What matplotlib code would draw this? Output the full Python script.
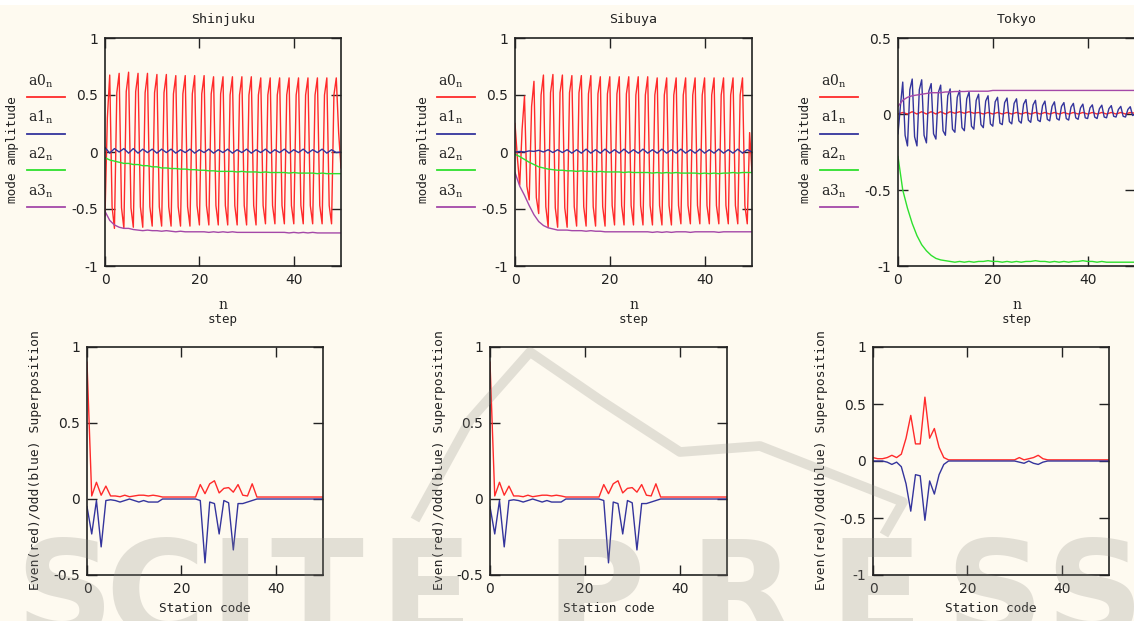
import numpy as np
import matplotlib.pyplot as plt
from matplotlib.lines import Line2D
from matplotlib.patches import Rectangle

W, H = 1134, 621
BG = "#FEFAF0"

STATIONS = ["Shinjuku", "Sibuya", "Tokyo"]
MODE_LABELS = ["a0", "a1", "a2", "a3"]
MODE_COLORS = ["#FF2A2A", "#34349C", "#2EE02E", "#A448A8"]

step = np.arange(51)
half_step = np.arange(101) / 2
station_code = np.arange(51)

# ---- mode amplitudes (top row) ----
shinjuku_a0 = [
    -0.56, 0.30, 0.675, -0.48,
    -0.67, 0.52, 0.69, -0.49,
    -0.67, 0.53, 0.70, -0.49,
    -0.66, 0.53, 0.69, -0.48,
    -0.66, 0.52, 0.69, -0.48,
    -0.65, 0.52, 0.68, -0.48,
    -0.65, 0.52, 0.68, -0.48,
    -0.65, 0.51, 0.67, -0.48,
    -0.65, 0.51, 0.67, -0.48,
    -0.65, 0.51, 0.67, -0.47,
    -0.64, 0.51, 0.67, -0.47,
    -0.64, 0.51, 0.66, -0.47,
    -0.64, 0.51, 0.66, -0.47,
    -0.64, 0.50, 0.66, -0.47,
    -0.64, 0.50, 0.66, -0.47,
    -0.64, 0.50, 0.66, -0.47,
    -0.64, 0.50, 0.65, -0.47,
    -0.63, 0.50, 0.65, -0.47,
    -0.63, 0.50, 0.65, -0.47,
    -0.63, 0.50, 0.65, -0.47,
    -0.63, 0.50, 0.65, -0.47,
    -0.63, 0.50, 0.65, -0.47,
    -0.63, 0.50, 0.65, -0.47,
    -0.63, 0.50, 0.65, -0.47,
    -0.63, 0.50, 0.65, 0.17,
    -0.14,
]
shinjuku_a1 = [
    0.04, -0.01, 0.03, 0.00, 0.03, -0.01, 0.03, -0.01, 0.025, -0.005,
    0.025, -0.01, 0.025, -0.005, 0.025, -0.01, 0.02, -0.005, 0.025, -0.01,
    0.02, -0.005, 0.025, -0.01, 0.02, -0.005, 0.025, -0.01, 0.02, -0.005,
    0.025, -0.01, 0.02, -0.005, 0.025, -0.01, 0.02, -0.005, 0.025, -0.01,
    0.02, -0.005, 0.025, -0.01, 0.02, -0.005, 0.025, -0.01, 0.02, -0.005,
    0.00,
]
shinjuku_a2 = [
    -0.05, -0.07, -0.08, -0.09, -0.10, -0.10, -0.11, -0.11, -0.12, -0.12,
    -0.13, -0.13, -0.14, -0.14, -0.145, -0.145, -0.15, -0.15, -0.155, -0.155,
    -0.16, -0.16, -0.165, -0.165, -0.17, -0.17, -0.17, -0.17, -0.175, -0.17,
    -0.175, -0.175, -0.175, -0.18, -0.175, -0.18, -0.18, -0.18, -0.18, -0.185,
    -0.18, -0.185, -0.185, -0.185, -0.185, -0.19, -0.185, -0.19, -0.19, -0.19,
    -0.19,
]
shinjuku_a3 = [
    -0.52, -0.60, -0.64, -0.66, -0.67, -0.67, -0.68, -0.685, -0.69, -0.685,
    -0.69, -0.69, -0.695, -0.69, -0.695, -0.70, -0.695, -0.70, -0.70, -0.70,
    -0.70, -0.70, -0.705, -0.70, -0.705, -0.70, -0.705, -0.70, -0.705, -0.705,
    -0.705, -0.705, -0.705, -0.705, -0.705, -0.705, -0.705, -0.705, -0.705, -0.71,
    -0.705, -0.71, -0.705, -0.71, -0.705, -0.71, -0.71, -0.71, -0.71, -0.71,
    -0.71,
]

sibuya_a0 = [
    0.25, -0.05, -0.29, 0.20,
    0.49, -0.30, -0.42, 0.40,
    0.62, -0.40, -0.54, 0.50,
    0.675, -0.48, -0.66, 0.52,
    0.68, -0.49, -0.66, 0.52,
    0.675, -0.49, -0.66, 0.52,
    0.67, -0.48, -0.65, 0.52,
    0.67, -0.48, -0.65, 0.51,
    0.67, -0.48, -0.65, 0.51,
    0.66, -0.48, -0.65, 0.51,
    0.66, -0.47, -0.64, 0.51,
    0.66, -0.47, -0.64, 0.51,
    0.66, -0.47, -0.64, 0.50,
    0.66, -0.47, -0.64, 0.50,
    0.66, -0.47, -0.64, 0.50,
    0.65, -0.47, -0.64, 0.50,
    0.65, -0.47, -0.64, 0.50,
    0.65, -0.47, -0.63, 0.50,
    0.65, -0.47, -0.63, 0.50,
    0.65, -0.47, -0.63, 0.50,
    0.65, -0.47, -0.63, 0.50,
    0.65, -0.47, -0.63, 0.50,
    0.65, -0.47, -0.63, 0.50,
    0.65, -0.47, -0.63, 0.50,
    0.65, -0.47, -0.63, 0.17,
    -0.18,
]
sibuya_a1 = [
    0.00, 0.005, 0.00, 0.01, 0.005, 0.015, 0.00, 0.02, -0.005, 0.02,
    -0.005, 0.02, -0.01, 0.02, -0.01, 0.025, -0.01, 0.02, -0.01, 0.025,
    -0.01, 0.02, -0.01, 0.025, -0.01, 0.02, -0.01, 0.025, -0.01, 0.02,
    -0.01, 0.025, -0.01, 0.02, -0.01, 0.025, -0.01, 0.02, -0.01, 0.025,
    -0.01, 0.02, -0.01, 0.025, -0.01, 0.02, -0.01, 0.025, -0.01, 0.02,
    0.00,
]
sibuya_a2 = [
    -0.02, -0.04, -0.065, -0.09, -0.11, -0.13, -0.14, -0.15, -0.155, -0.16,
    -0.16, -0.165, -0.165, -0.17, -0.165, -0.17, -0.17, -0.175, -0.17, -0.175,
    -0.175, -0.175, -0.175, -0.18, -0.175, -0.18, -0.18, -0.18, -0.18, -0.185,
    -0.18, -0.185, -0.18, -0.185, -0.18, -0.185, -0.185, -0.185, -0.185, -0.19,
    -0.185, -0.19, -0.185, -0.19, -0.185, -0.185, -0.18, -0.185, -0.18, -0.18,
    -0.18,
]
sibuya_a3 = [
    -0.18, -0.30, -0.38, -0.47, -0.55, -0.61, -0.645, -0.665, -0.675, -0.685,
    -0.685, -0.685, -0.69, -0.69, -0.69, -0.695, -0.69, -0.695, -0.695, -0.70,
    -0.70, -0.70, -0.70, -0.70, -0.70, -0.70, -0.70, -0.70, -0.70, -0.705,
    -0.70, -0.705, -0.70, -0.705, -0.70, -0.70, -0.70, -0.705, -0.70, -0.70,
    -0.70, -0.70, -0.70, -0.705, -0.70, -0.70, -0.70, -0.70, -0.70, -0.70,
    -0.70,
]

tokyo_a0 = [
    0.00, 0.01, 0.00, 0.015, 0.00, 0.015, 0.00, 0.015, 0.00, 0.015,
    0.00, 0.015, 0.005, 0.015, 0.005, 0.015, 0.005, 0.01, 0.00, 0.01,
    0.00, 0.01, 0.00, 0.01, 0.00, 0.01, 0.00, 0.01, 0.00, 0.01,
    0.00, 0.01, 0.00, 0.01, 0.00, 0.01, 0.00, 0.01, 0.00, 0.01,
    0.00, 0.01, 0.00, 0.01, 0.00, 0.01, 0.00, 0.01, 0.00, 0.01,
    0.005,
]
tokyo_a1 = [
    -0.13, 0.05, 0.21, -0.14,
    -0.21, 0.16, 0.23, -0.15,
    -0.21, 0.16, 0.225, -0.14,
    -0.19, 0.15, 0.20, -0.13,
    -0.165, 0.14, 0.19, -0.11,
    -0.14, 0.12, 0.165, -0.10,
    -0.12, 0.11, 0.155, -0.09,
    -0.11, 0.10, 0.145, -0.08,
    -0.10, 0.09, 0.13, -0.07,
    -0.09, 0.085, 0.12, -0.065,
    -0.08, 0.08, 0.11, -0.06,
    -0.07, 0.075, 0.105, -0.05,
    -0.065, 0.07, 0.10, -0.045,
    -0.06, 0.065, 0.095, -0.04,
    -0.055, 0.06, 0.09, -0.04,
    -0.05, 0.055, 0.085, -0.035,
    -0.045, 0.05, 0.08, -0.03,
    -0.04, 0.05, 0.075, -0.03,
    -0.04, 0.045, 0.07, -0.025,
    -0.035, 0.04, 0.065, -0.025,
    -0.03, 0.04, 0.06, -0.02,
    -0.03, 0.035, 0.058, -0.02,
    -0.025, 0.035, 0.055, -0.015,
    -0.02, 0.03, 0.05, -0.015,
    -0.02, 0.03, 0.048, -0.01,
    0.00,
]
tokyo_a2 = [
    -0.28, -0.50, -0.62, -0.72, -0.80, -0.86, -0.90, -0.93, -0.95, -0.96,
    -0.965, -0.97, -0.975, -0.97, -0.975, -0.97, -0.975, -0.97, -0.97, -0.965,
    -0.97, -0.97, -0.975, -0.97, -0.975, -0.97, -0.975, -0.97, -0.97, -0.965,
    -0.97, -0.97, -0.975, -0.97, -0.975, -0.97, -0.975, -0.97, -0.97, -0.965,
    -0.97, -0.97, -0.975, -0.97, -0.975, -0.975, -0.975, -0.975, -0.975, -0.975,
    -0.975,
]
tokyo_a3 = [
    0.05, 0.09, 0.11, 0.12, 0.125, 0.13, 0.135, 0.14, 0.14, 0.14,
    0.145, 0.145, 0.148, 0.148, 0.148, 0.15, 0.15, 0.15, 0.15, 0.15,
    0.155, 0.155, 0.155, 0.155, 0.155, 0.155, 0.155, 0.155, 0.155, 0.155,
    0.155, 0.155, 0.155, 0.155, 0.155, 0.155, 0.155, 0.155, 0.155, 0.155,
    0.155, 0.155, 0.155, 0.155, 0.155, 0.155, 0.155, 0.155, 0.155, 0.155,
    0.155,
]

# ---- even / odd superposition (bottom row) ----
shinjuku_even = [
    0.90, 0.02, 0.11, 0.025, 0.085, 0.02, 0.02, 0.015, 0.025, 0.015,
    0.02, 0.025, 0.025, 0.02, 0.025, 0.02, 0.013, 0.013, 0.013, 0.013,
    0.013, 0.013, 0.013, 0.013, 0.095, 0.035, 0.10, 0.12, 0.04, 0.07,
    0.075, 0.045, 0.095, 0.025, 0.02, 0.10, 0.013, 0.013, 0.013, 0.013,
    0.013, 0.013, 0.013, 0.013, 0.013, 0.013, 0.013, 0.013, 0.013, 0.013,
    0.013,
]
shinjuku_odd = [
    -0.05, -0.23, -0.01, -0.315, -0.01, -0.005, -0.01, -0.02, -0.01, 0.00,
    -0.01, -0.02, -0.01, -0.02, -0.02, -0.02, 0.00, 0.00, 0.00, 0.00,
    0.00, 0.00, 0.00, 0.00, -0.01, -0.42, -0.02, -0.03, -0.23, -0.01,
    -0.025, -0.335, -0.03, -0.03, -0.02, -0.01, 0.00, 0.00, 0.00, 0.00,
    0.00, 0.00, 0.00, 0.00, 0.00, 0.00, 0.00, 0.00, 0.00, 0.00,
    0.00,
]
sibuya_even = list(shinjuku_even)
sibuya_odd = list(shinjuku_odd)
tokyo_even = [
    0.03, 0.02, 0.02, 0.03, 0.05, 0.03, 0.06, 0.20, 0.40, 0.15,
    0.15, 0.56, 0.20, 0.285, 0.12, 0.03, 0.01, 0.01, 0.01, 0.01,
    0.01, 0.01, 0.01, 0.01, 0.01, 0.01, 0.01, 0.01, 0.01, 0.01,
    0.01, 0.03, 0.01, 0.02, 0.03, 0.05, 0.02, 0.01, 0.01, 0.01,
    0.01, 0.01, 0.01, 0.01, 0.01, 0.01, 0.01, 0.01, 0.01, 0.01,
    0.01,
]
tokyo_odd = [
    0.00, 0.00, 0.00, -0.01, -0.03, -0.01, -0.05, -0.20, -0.44, -0.12,
    -0.13, -0.52, -0.175, -0.29, -0.12, -0.03, 0.00, 0.00, 0.00, 0.00,
    0.00, 0.00, 0.00, 0.00, 0.00, 0.00, 0.00, 0.00, 0.00, 0.00,
    0.00, -0.01, -0.02, 0.00, -0.02, -0.03, -0.01, 0.00, 0.00, 0.00,
    0.00, 0.00, 0.00, 0.00, 0.00, 0.00, 0.00, 0.00, 0.00, 0.00,
    0.00,
]

TOP = {
    "Shinjuku": [(half_step, shinjuku_a0), (step, shinjuku_a1), (step, shinjuku_a2), (step, shinjuku_a3)],
    "Sibuya": [(half_step, sibuya_a0), (step, sibuya_a1), (step, sibuya_a2), (step, sibuya_a3)],
    "Tokyo": [(step, tokyo_a0), (half_step, tokyo_a1), (step, tokyo_a2), (step, tokyo_a3)],
}
BOTTOM = {
    "Shinjuku": (shinjuku_even, shinjuku_odd),
    "Sibuya": (sibuya_even, sibuya_odd),
    "Tokyo": (tokyo_even, tokyo_odd),
}
TOP_YLIM = {"Shinjuku": (-1, 1), "Sibuya": (-1, 1), "Tokyo": (-1, 0.5)}
BOT_YLIM = {"Shinjuku": (-0.5, 1), "Sibuya": (-0.5, 1), "Tokyo": (-1, 1)}

# pixel boxes (left, top, right, bottom)
TOP_BOX = {"Shinjuku": (105, 38, 341, 266), "Sibuya": (515, 38, 752, 266), "Tokyo": (898, 38, 1135, 266)}
BOT_BOX = {"Shinjuku": (87, 347, 323, 575), "Sibuya": (490, 347, 727, 575), "Tokyo": (873, 347, 1109, 575)}

# publisher watermark letters (left edge in px)
WM_TEXT = list("SCITEPRESS")
WM_LEFT = [15, 105, 210, 270, 380, 545, 690, 830, 945, 1045]

MONO = "DejaVu Sans Mono"
SERIF = "DejaVu Serif"
INK = "#222222"


def fx(x):
    return x / W


def fy(y):
    return 1 - y / H


def make_axes(fig, box, ylim):
    l, t, r, b = box
    ax = fig.add_axes([fx(l), fy(b), (r - l) / W, (b - t) / H])
    ax.set_facecolor(BG)
    ax.set_xlim(0, 50)
    ax.set_ylim(*ylim)
    ax.set_xticks([0, 20, 40])
    yt = np.arange(ylim[0], ylim[1] + 0.01, 0.5)
    ax.set_yticks(yt)
    ax.set_yticklabels([f"{v:g}" for v in yt])
    ax.tick_params(direction="in", length=7.5, width=1.0, top=True, right=True,
                   labelsize=10, pad=5, colors=INK)
    for s in ax.spines.values():
        s.set_color(INK)
        s.set_linewidth(1.2)
    return ax


fig = plt.figure(figsize=(W / 100, H / 100), dpi=100, facecolor=BG)
fig.add_artist(Rectangle((0, fy(5)), 1, 5 / H, transform=fig.transFigure,
                         facecolor="white", edgecolor="none", zorder=-5))

for name in STATIONS:
    l, t, r, b = TOP_BOX[name]
    ax = make_axes(fig, TOP_BOX[name], TOP_YLIM[name])
    for (x, y), c in zip(TOP[name], MODE_COLORS):
        ax.plot(x, y, color=c, linewidth=1.0)
    fig.text(fx((l + r) / 2), fy(20), name, family=MONO, fontsize=9.5,
             ha="center", va="center", color=INK)
    fig.text(fx((l + r) / 2), fy(305), "n", family=SERIF, fontsize=10,
             ha="center", va="center", color=INK)
    fig.text(fx((l + r) / 2), fy(320), "step", family=MONO, fontsize=9,
             ha="center", va="center", color=INK)
    fig.text(fx(l - 92), fy(150), "mode amplitude", family=MONO, fontsize=9.2,
             rotation=90, ha="center", va="center", color=INK)
    # legend: label above a short line
    for i, (lab, c) in enumerate(zip(MODE_LABELS, MODE_COLORS)):
        ly = 97 + i * 36.7
        fig.text(fx(l - 77), fy(ly - 16), rf"$\mathrm{{{lab}}}_\mathrm{{n}}$", fontsize=10,
                 ha="left", va="center", color=INK, math_fontfamily="dejavuserif")
        fig.add_artist(Line2D([fx(l - 78), fx(l - 40)], [fy(ly), fy(ly)], color=c,
                              linewidth=1.3, transform=fig.transFigure))

for name in STATIONS:
    l, t, r, b = BOT_BOX[name]
    ax = make_axes(fig, BOT_BOX[name], BOT_YLIM[name])
    even, odd = BOTTOM[name]
    ax.plot(station_code, even, color=MODE_COLORS[0], linewidth=1.0)
    ax.plot(station_code, odd, color=MODE_COLORS[1], linewidth=1.0)
    fig.text(fx((l + r) / 2), fy(608), "Station code", family=MONO, fontsize=9.2,
             ha="center", va="center", color=INK)
    fig.text(fx(l - 51), fy(460), "Even(red)/Odd(blue) Superposition", family=MONO,
             fontsize=9.4, rotation=90, ha="center", va="center", color=INK)

# faint publisher watermark over the lower part
WM_COLOR = "#8C8A82"
for ch, x0 in zip(WM_TEXT, WM_LEFT):
    fig.text(fx(x0), fy(637), ch, family="DejaVu Sans", weight="bold", fontsize=98,
             ha="left", va="baseline", color=WM_COLOR, alpha=0.24, zorder=10)
logo_x = [415, 470, 530, 600, 680, 760, 903, 884]
logo_y = [520, 420, 352, 400, 452, 446, 502, 535]
fig.add_artist(Line2D([fx(v) for v in logo_x], [fy(v) for v in logo_y], color=WM_COLOR,
                      alpha=0.24, linewidth=7, solid_capstyle="butt",
                      transform=fig.transFigure, zorder=10))

fig.savefig("out.png", dpi=100, facecolor=BG)
